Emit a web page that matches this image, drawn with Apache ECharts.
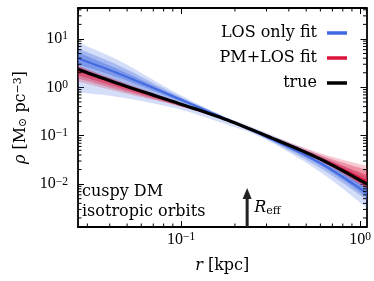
<!DOCTYPE html>
<html><head><meta charset="utf-8">
<script src="https://cdn.jsdelivr.net/npm/echarts@6/dist/echarts.min.js"></script>
<style>html,body{margin:0;padding:0;background:#fff}#c{width:374px;height:281px}</style>
</head><body><div id="c"></div><script>
// radii (kpc) at which the curves were read
const radii = [0.0266, 0.046, 0.093, 0.165, 0.295, 0.6, 1.094];
// true density profile
const trueProfile = [2.350, 1.153, 0.4905, 0.2406, 0.1024, 0.03277, 0.01000];
// LOS only fit (blue)
const losMedian  = [3.963, 1.854, 0.622, 0.2523, 0.09765, 0.0271, 0.006523];
const losOuterHi = [8.467, 3.437, 0.7888, 0.2775, 0.1181, 0.03962, 0.01394];
const losOuterLo = [0.7888, 0.622, 0.369, 0.1898, 0.0847, 0.01768, 0.003199];
const losMidHi   = [6.370, 2.710, 0.7174, 0.2647, 0.1074, 0.03277, 0.0100];
const losMidLo   = [2.241, 1.268, 0.4905, 0.2295, 0.08881, 0.02138, 0.004678];
const losInnerHi = [5.268, 2.241, 0.6678, 0.2585, 0.1024, 0.0298, 0.008271];
const losInnerLo = [2.980, 1.533, 0.5656, 0.2406, 0.09313, 0.02465, 0.005395];
// PM+LOS fit (red)
const pmMedian  = [2.241, 1.100, 0.4836, 0.2406, 0.1024, 0.03436, 0.01153];
const pmOuterHi = [2.842, 1.329, 0.5266, 0.2523, 0.1100, 0.04357, 0.0235];
const pmOuterLo = [1.329, 0.7888, 0.4255, 0.2241, 0.09537, 0.0298, 0.007888];
const pmMidHi   = [2.710, 1.268, 0.5143, 0.2488, 0.1074, 0.03962, 0.01944];
const pmMidLo   = [1.533, 0.8673, 0.4357, 0.2295, 0.09765, 0.03052, 0.008271];
const pmInnerHi = [2.584, 1.209, 0.5023, 0.2453, 0.1049, 0.03603, 0.01533];
const pmInnerLo = [1.768, 0.9537, 0.4462, 0.2317, 0.09858, 0.03125, 0.008673];
// minor ticks
const xMinorTicks = [0.03,0.04,0.05,0.06,0.07,0.08,0.09,0.2,0.3,0.4,0.5,0.6,0.7,0.8,0.9];
const yMinorTicks = [0.002,0.003,0.004,0.005,0.006,0.007,0.008,0.009,
  0.02,0.03,0.04,0.05,0.06,0.07,0.08,0.09,0.2,0.3,0.4,0.5,0.6,0.7,0.8,0.9,
  2,3,4,5,6,7,8,9,20,30,40];
const xRange = [0.0266, 1.085];
const yRange = [0.0013, 43.6];
const rEff = 0.234;
const arrowTip = 0.00827;
const legendNames = ['LOS only fit', 'PM+LOS fit', 'true'];
const annotation = ['cuspy DM', 'isotropic orbits'];

const BLUE = '#4169E1', RED = '#DC143C';
const numFont = "'Liberation Serif', 'DejaVu Serif', serif";
const txtFont = "'DejaVu Serif', serif";

function tickFmt(v) {
  const l = Math.log10(v), e = Math.round(l);
  if (Math.abs(l - e) > 1e-6) return '';
  return '{b|10}{s|' + (e < 0 ? '\u2212' : '') + Math.abs(e) + '}';
}
const tickRich = {
  b: {fontFamily: numFont, fontSize: 16, color: '#000', lineHeight: 17},
  s: {fontFamily: numFont, fontSize: 11.5, color: '#000', verticalAlign: 'top', lineHeight: 10}
};

// smooth rendering of a pixel polyline (Catmull-Rom), drawing only
function smoothPx(P) {
  const out = [];
  const n = P.length;
  for (let i = 0; i < n - 1; i++) {
    const p0 = P[Math.max(0, i - 1)], p1 = P[i], p2 = P[i + 1], p3 = P[Math.min(n - 1, i + 2)];
    for (let k = 0; k < 12; k++) {
      const t = k / 12, t2 = t * t, t3 = t2 * t;
      out.push([0, 1].map(j => 0.5 * ((2 * p1[j]) + (-p0[j] + p2[j]) * t +
        (2 * p0[j] - 5 * p1[j] + 4 * p2[j] - p3[j]) * t2 + (-p0[j] + 3 * p1[j] - 3 * p2[j] + p3[j]) * t3)));
    }
  }
  out.push(P[n - 1]);
  return out;
}

function band(lo, hi, color, op, z) {
  return {
    type: 'custom', clip: true, z: z, silent: true,
    data: [[radii[0], lo[0]]],
    renderItem: function (params, api) {
      const top = smoothPx(radii.map((r, i) => api.coord([r, hi[i]])));
      const bot = smoothPx(radii.map((r, i) => api.coord([r, lo[i]]))).reverse();
      return {type: 'polygon', shape: {points: top.concat(bot)}, style: {fill: color, opacity: op}};
    }
  };
}
function curve(ys, color, width, z) {
  return {
    type: 'custom', clip: true, z: z, silent: true,
    data: [[radii[0], ys[0]]],
    renderItem: function (params, api) {
      const pts = smoothPx(radii.map((r, i) => api.coord([r, ys[i]])));
      return {type: 'polyline', shape: {points: pts}, style: {stroke: color, lineWidth: width, fill: null}};
    }
  };
}

const chart = echarts.init(document.getElementById('c'), null, {renderer: 'canvas'});
const baseAxisLine = {show: true, onZero: false, lineStyle: {color: '#000', width: 1.8}};
const baseTick = {show: true, inside: true, length: 6, lineStyle: {color: '#000', width: 1}};

chart.setOption({
  animation: false,
  backgroundColor: '#fff',
  grid: {left: 78, right: 7, top: 8, bottom: 54, containLabel: false},
  legend: {
    data: legendNames, orient: 'vertical', align: 'right', right: 22, top: 20,
    itemWidth: 20, itemHeight: 3.5, itemGap: 9, icon: 'rect',
    textStyle: {fontFamily: txtFont, fontSize: 16, color: '#000', padding: [0, 5, 0, 0]}
  },
  xAxis: [{
    type: 'log', min: xRange[0], max: xRange[1], position: 'bottom',
    axisLine: baseAxisLine, axisTick: baseTick, splitLine: {show: false},
    axisLabel: {formatter: tickFmt, rich: tickRich, margin: 4, showMinLabel: false, showMaxLabel: false},
    name: '{i|r} [kpc]', nameLocation: 'middle', nameGap: 31,
    nameTextStyle: {fontFamily: txtFont, fontSize: 16, color: '#000',
      rich: {i: {fontFamily: txtFont, fontStyle: 'italic', fontSize: 16, color: '#000'}}}
  }, {
    type: 'log', min: xRange[0], max: xRange[1], position: 'top',
    axisLine: baseAxisLine, axisTick: baseTick, splitLine: {show: false}, axisLabel: {show: false}
  }],
  yAxis: [{
    type: 'log', min: yRange[0], max: yRange[1], position: 'left',
    axisLine: baseAxisLine, axisTick: baseTick, splitLine: {show: false},
    axisLabel: {formatter: tickFmt, rich: tickRich, margin: 10, showMinLabel: false, showMaxLabel: false},
    name: '{i|\u03c1} [M{d|\u2299} pc{s|\u22123}]', nameLocation: 'middle', nameGap: 48, nameRotate: 90,
    nameTextStyle: {fontFamily: txtFont, fontSize: 16, color: '#000',
      rich: {
        i: {fontFamily: txtFont, fontStyle: 'italic', fontSize: 16, color: '#000'},
        d: {fontFamily: txtFont, fontSize: 11, color: '#000', verticalAlign: 'bottom', lineHeight: 10},
        s: {fontFamily: txtFont, fontSize: 11, color: '#000', verticalAlign: 'top', lineHeight: 10}
      }}
  }, {
    type: 'log', min: yRange[0], max: yRange[1], position: 'right',
    axisLine: baseAxisLine, axisTick: baseTick, splitLine: {show: false}, axisLabel: {show: false}
  }],
  series: [
    band(losOuterLo, losOuterHi, BLUE, 0.22, 1),
    band(losMidLo, losMidHi, BLUE, 0.32, 1),
    band(losInnerLo, losInnerHi, BLUE, 0.42, 1),
    band(pmOuterLo, pmOuterHi, RED, 0.22, 2),
    band(pmMidLo, pmMidHi, RED, 0.3, 2),
    band(pmInnerLo, pmInnerHi, RED, 0.4, 2),
    curve(losMedian, BLUE, 2, 3),
    curve(pmMedian, RED, 1.5, 4),
    curve(trueProfile, '#000', 3.2, 5),
    // legend entries (lines drawn by the curves above)
    {name: legendNames[0], type: 'line', data: [], itemStyle: {color: BLUE}, lineStyle: {color: BLUE}},
    {name: legendNames[1], type: 'line', data: [], itemStyle: {color: RED}, lineStyle: {color: RED}},
    {name: legendNames[2], type: 'line', data: [], itemStyle: {color: '#000'}, lineStyle: {color: '#000'}},
    { // x minor ticks
      type: 'custom', silent: true, z: 10, data: xMinorTicks.map(v => [v, 1]),
      renderItem: function (params, api) {
        const p = api.coord([api.value(0), 1]); const cs = params.coordSys;
        const b = cs.y + cs.height, t = cs.y;
        return {type: 'group', children: [
          {type: 'line', shape: {x1: p[0], y1: b, x2: p[0], y2: b - 3.5}, style: {stroke: '#000', lineWidth: 1}},
          {type: 'line', shape: {x1: p[0], y1: t, x2: p[0], y2: t + 3.5}, style: {stroke: '#000', lineWidth: 1}}
        ]};
      }
    },
    { // y minor ticks
      type: 'custom', silent: true, z: 10, data: yMinorTicks.map(v => [0.1, v]),
      renderItem: function (params, api) {
        const p = api.coord([0.1, api.value(1)]); const cs = params.coordSys;
        const l = cs.x, r = cs.x + cs.width;
        return {type: 'group', children: [
          {type: 'line', shape: {x1: l, y1: p[1], x2: l + 3.5, y2: p[1]}, style: {stroke: '#000', lineWidth: 1}},
          {type: 'line', shape: {x1: r, y1: p[1], x2: r - 3.5, y2: p[1]}, style: {stroke: '#000', lineWidth: 1}}
        ]};
      }
    },
    { // R_eff arrow
      type: 'custom', silent: true, z: 8, data: [[rEff, arrowTip]],
      renderItem: function (params, api) {
        const tip = api.coord([rEff, arrowTip]); const cs = params.coordSys;
        const base = cs.y + cs.height;
        return {type: 'group', children: [
          {type: 'rect', shape: {x: tip[0] - 1.5, y: tip[1] + 9, width: 3, height: base - tip[1] - 9}, style: {fill: '#222'}},
          {type: 'polygon', shape: {points: [[tip[0], tip[1]], [tip[0] - 4.5, tip[1] + 11], [tip[0] + 4.5, tip[1] + 11]]}, style: {fill: '#222'}},
          {type: 'text', x: tip[0] + 7, y: tip[1] + 20, style: {
            text: '{i|R}{d|eff}', verticalAlign: 'middle', align: 'left',
            rich: {
              i: {fontFamily: txtFont, fontStyle: 'italic', fontSize: 16, fill: '#000', lineHeight: 18},
              d: {fontFamily: txtFont, fontSize: 11, fill: '#000', verticalAlign: 'bottom', lineHeight: 12}
            }}}
        ]};
      }
    }
  ],
  graphic: [{
    type: 'text', left: 82, top: 182, z: 20,
    style: {text: annotation.join('\n'), fontFamily: txtFont, fontSize: 16, lineHeight: 20, fill: '#000'}
  }]
});
</script></body></html>
